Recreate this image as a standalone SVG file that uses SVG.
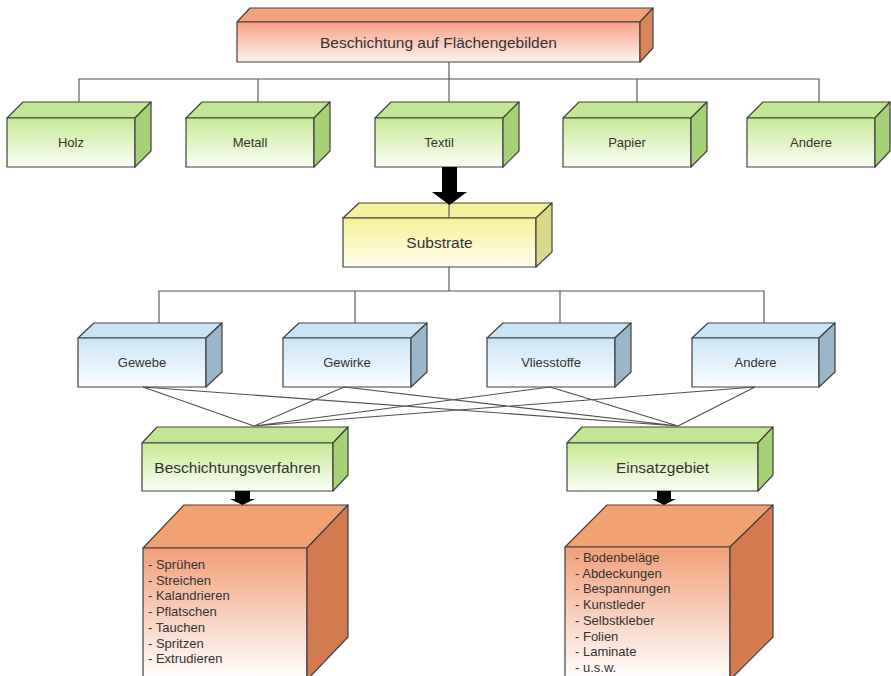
<svg xmlns="http://www.w3.org/2000/svg" width="891" height="676" viewBox="0 0 891 676">
<defs>
<linearGradient id="gOr" x1="0" y1="0" x2="0" y2="1"><stop offset="0" stop-color="#f7a184"/><stop offset="1" stop-color="#fdf3ee"/></linearGradient>
<linearGradient id="gGr" x1="0" y1="0" x2="0" y2="1"><stop offset="0" stop-color="#c6ea93"/><stop offset="1" stop-color="#fbfef6"/></linearGradient>
<linearGradient id="gBl" x1="0" y1="0" x2="0" y2="1"><stop offset="0" stop-color="#c9e5f7"/><stop offset="1" stop-color="#fbfdff"/></linearGradient>
<linearGradient id="gYe" x1="0" y1="0" x2="0" y2="1"><stop offset="0" stop-color="#f5f19a"/><stop offset="1" stop-color="#fffdec"/></linearGradient>
<linearGradient id="gBig" x1="0" y1="0" x2="0" y2="1"><stop offset="0" stop-color="#f29f78"/><stop offset="1" stop-color="#ffffff"/></linearGradient>
</defs>
<style>
.s{stroke:#404040;stroke-width:1.2;stroke-linejoin:round}
.c{stroke:#505050;stroke-width:1.1;fill:none}
.t{font-family:"Liberation Sans",Arial,sans-serif;fill:#333;text-anchor:middle}
.l{font-family:"Liberation Sans",Arial,sans-serif;fill:#333;font-size:13px}
.orT{fill:#f3a27c}.orS{fill:#d8845c}
.grT{fill:#c3e694}.grS{fill:#a6d277}
.blT{fill:#c8e4f5}.blS{fill:#9ab6ca}
.yeT{fill:#f3f09e}.yeS{fill:#dcd889}
.bgT{fill:#f2a172}.bgS{fill:#d27b50}
</style>
<rect width="891" height="676" fill="#ffffff"/>

<g id="top">
<polygon class="s orT" points="237,22 250,8 653,8 640,22"/>
<rect class="s" x="237" y="22" width="403" height="40" fill="url(#gOr)"/>
<polygon class="s orS" points="640,22 653,8 653,48 640,62"/>
<text class="t" x="438.5" y="47.5" font-size="15.5">Beschichtung auf Flächengebilden</text>
</g>

<g id="holz">
<polygon class="s grT" points="7,118 23,102 151,102 135,118"/>
<rect class="s" x="7" y="118" width="128" height="49" fill="url(#gGr)"/>
<polygon class="s grS" points="135,118 151,102 151,151 135,167"/>
<text class="t" x="71" y="147" font-size="13">Holz</text>
</g>
<g id="metall">
<polygon class="s grT" points="186,118 202,102 330,102 314,118"/>
<rect class="s" x="186" y="118" width="128" height="49" fill="url(#gGr)"/>
<polygon class="s grS" points="314,118 330,102 330,151 314,167"/>
<text class="t" x="250" y="147" font-size="13">Metall</text>
</g>
<g id="textil">
<polygon class="s grT" points="375,118 391,102 519,102 503,118"/>
<rect class="s" x="375" y="118" width="128" height="49" fill="url(#gGr)"/>
<polygon class="s grS" points="503,118 519,102 519,151 503,167"/>
<text class="t" x="439" y="147" font-size="13">Textil</text>
</g>
<g id="papier">
<polygon class="s grT" points="563,118 579,102 707,102 691,118"/>
<rect class="s" x="563" y="118" width="128" height="49" fill="url(#gGr)"/>
<polygon class="s grS" points="691,118 707,102 707,151 691,167"/>
<text class="t" x="627" y="147" font-size="13">Papier</text>
</g>
<g id="andere1">
<polygon class="s grT" points="747,118 763,102 890,102 875,118"/>
<rect class="s" x="747" y="118" width="128" height="49" fill="url(#gGr)"/>
<polygon class="s grS" points="875,118 890,102 890,151 875,167"/>
<text class="t" x="811" y="147" font-size="13">Andere</text>
</g>

<g id="substrate">
<polygon class="s yeT" points="343,218 359,203 552,203 536,218"/>
<rect class="s" x="343" y="218" width="193" height="49" fill="url(#gYe)"/>
<polygon class="s yeS" points="536,218 552,203 552,252 536,267"/>
<text class="t" x="439.5" y="248" font-size="15.5">Substrate</text>
</g>

<g id="gewebe">
<polygon class="s blT" points="78,338 94,323 222,323 206,338"/>
<rect class="s" x="78" y="338" width="128" height="49" fill="url(#gBl)"/>
<polygon class="s blS" points="206,338 222,323 222,372 206,387"/>
<text class="t" x="142" y="367" font-size="13">Gewebe</text>
</g>
<g id="gewirke">
<polygon class="s blT" points="283,338 299,323 427,323 411,338"/>
<rect class="s" x="283" y="338" width="128" height="49" fill="url(#gBl)"/>
<polygon class="s blS" points="411,338 427,323 427,372 411,387"/>
<text class="t" x="347" y="367" font-size="13">Gewirke</text>
</g>
<g id="vliesstoffe">
<polygon class="s blT" points="487,338 503,323 631,323 615,338"/>
<rect class="s" x="487" y="338" width="128" height="49" fill="url(#gBl)"/>
<polygon class="s blS" points="615,338 631,323 631,372 615,387"/>
<text class="t" x="551" y="367" font-size="13">Vliesstoffe</text>
</g>
<g id="andere2">
<polygon class="s blT" points="692,338 708,323 835,323 819,338"/>
<rect class="s" x="692" y="338" width="127" height="49" fill="url(#gBl)"/>
<polygon class="s blS" points="819,338 835,323 835,372 819,387"/>
<text class="t" x="755.5" y="367" font-size="13">Andere</text>
</g>

<g id="verfahren">
<polygon class="s grT" points="142,443 157,427 348,427 333,443"/>
<rect class="s" x="142" y="443" width="191" height="48" fill="url(#gGr)"/>
<polygon class="s grS" points="333,443 348,427 348,475 333,491"/>
<text class="t" x="237.5" y="472.5" font-size="15.5">Beschichtungsverfahren</text>
</g>
<g id="einsatz">
<polygon class="s grT" points="567,443 582,427 773,427 758,443"/>
<rect class="s" x="567" y="443" width="191" height="48" fill="url(#gGr)"/>
<polygon class="s grS" points="758,443 773,427 773,475 758,491"/>
<text class="t" x="662.5" y="472.5" font-size="15.5">Einsatzgebiet</text>
</g>

<g id="verfahrenListe">
<polygon class="s bgT" points="143,548 184,505 348,505 307,548"/>
<rect class="s" x="143" y="548" width="164" height="132" fill="url(#gBig)"/>
<polygon class="s bgS" points="307,548 348,505 348,637 307,680"/>
<text class="l" x="148" y="569">- Sprühen</text>
<text class="l" x="148" y="584.7">- Streichen</text>
<text class="l" x="148" y="600.4">- Kalandrieren</text>
<text class="l" x="148" y="616.1">- Pflatschen</text>
<text class="l" x="148" y="631.8">- Tauchen</text>
<text class="l" x="148" y="647.5">- Spritzen</text>
<text class="l" x="148" y="663.2">- Extrudieren</text>
</g>
<g id="einsatzListe">
<polygon class="s bgT" points="565,547 607,505 773,505 730,547"/>
<rect class="s" x="565" y="547" width="165" height="133" fill="url(#gBig)"/>
<polygon class="s bgS" points="730,547 773,505 773,637 730,680"/>
<text class="l" x="575" y="562">- Bodenbeläge</text>
<text class="l" x="575" y="577.7">- Abdeckungen</text>
<text class="l" x="575" y="593.4">- Bespannungen</text>
<text class="l" x="575" y="609.1">- Kunstleder</text>
<text class="l" x="575" y="624.8">- Selbstkleber</text>
<text class="l" x="575" y="640.5">- Folien</text>
<text class="l" x="575" y="656.2">- Laminate</text>
<text class="l" x="575" y="671.9">- u.s.w.</text>
</g>

<g id="connectors">
<path class="c" d="M449,62V79 M79,102V79H819V102 M258,79V102 M449,79V102 M637,79V102"/>
<path class="c" d="M449,203V218 M449,267V291 M159,323V291H764V323 M355,291V323 M560,291V323"/>
<path class="c" d="M143,387L254,426 M344,387L254,426 M550,387L254,426 M755,387L254,426 M143,387L678,426 M344,387L678,426 M550,387L678,426 M755,387L678,426"/>
<polygon fill="#000" points="442,167 457,167 457,192 467,192 449.5,205 432,192 442,192"/>
<polygon fill="#000" points="235,491 250,491 250,499 255,499 242.5,505 230,499 235,499"/>
<polygon fill="#000" points="657,491 671,491 671,499 676,499 664,505 652,499 657,499"/>
</g>
</svg>
